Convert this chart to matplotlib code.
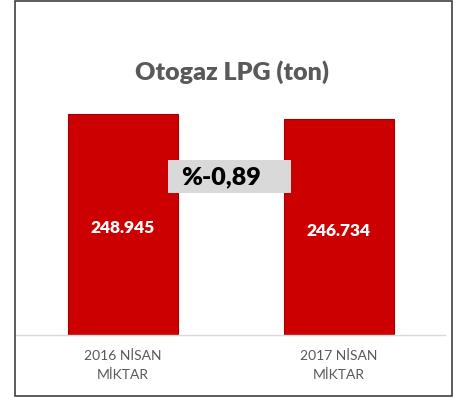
import matplotlib.pyplot as plt
from matplotlib.patches import Rectangle

# chart data
categories = ["2016 NİSAN\nMİKTAR", "2017 NİSAN\nMİKTAR"]
values = [248945, 246734]
value_labels = ["248.945", "246.734"]
change_label = "%-0,89"
title = "Otogaz LPG (ton)"

plt.rcParams['font.family'] = ['Lato', 'DejaVu Sans']

fig = plt.figure(figsize=(4.70, 4.03), dpi=100)

# outer frame like the exported slide
fig.patches.append(Rectangle((15 / 470, 7 / 403), 437 / 470, 395 / 403,
                             transform=fig.transFigure, fill=False,
                             edgecolor='#404040', linewidth=1.2))

ax = fig.add_axes([16 / 470, 1 - 334.7 / 403, 429 / 470, 243 / 403])
ymin, ymax = 140000, 260000
x = [0, 1]
ax.bar(x, [v - ymin for v in values], bottom=ymin, width=0.51,
       color='#cc0000', edgecolor='#a00000', linewidth=0.8)
ax.set_xlim(-0.495, 1.491)
ax.set_ylim(ymin, ymax)

for xi, v, lab in zip(x, values, value_labels):
    ax.text(xi, (ymin + v) / 2 - 2000, lab, ha='center', va='center',
            color='white', fontsize=12.5, fontweight='heavy')

ax.set_xticks(x)
ax.set_xticklabels(categories, color='#595959', fontsize=10, linespacing=1.75)
ax.tick_params(axis='x', length=0, pad=11)
ax.set_yticks([])
for s in ['top', 'right', 'left']:
    ax.spines[s].set_visible(False)
ax.spines['bottom'].set_color('#d9d9d9')
ax.spines['bottom'].set_linewidth(1.0)

fig.text(232 / 470, 1 - 72 / 403, title, ha='center', va='center',
         color='#595959', fontsize=18, fontweight='heavy')

# grey box behind the change label
fig.patches.append(Rectangle((168 / 470, 1 - 193 / 403), 123 / 470, 33 / 403,
                             transform=fig.transFigure, facecolor='#d9d9d9',
                             edgecolor='none', zorder=3))
fig.text(221 / 470, 1 - 177 / 403, change_label, ha='center', va='center',
         color='black', fontsize=18, fontweight='heavy', zorder=4)

fig.savefig('out.png', dpi=100)
